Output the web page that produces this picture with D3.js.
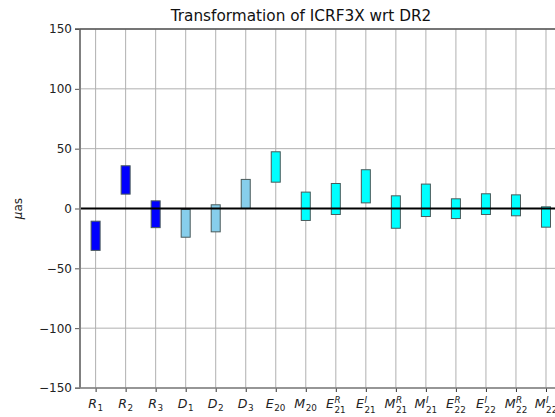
<!DOCTYPE html>
<html>
<head>
<meta charset="utf-8">
<script src="https://cdn.jsdelivr.net/npm/d3@7"></script>
<style>
    body { margin: 0; background: #fff; }
    text { font-family: "DejaVu Sans", sans-serif; }
</style>
</head>
<body>
<svg id="chart" width="555" height="417"></svg>
<script>
// parameter names: letter, subscript, superscript
var names = [
    ['R', '1', ''], ['R', '2', ''], ['R', '3', ''],
    ['D', '1', ''], ['D', '2', ''], ['D', '3', ''],
    ['E', '20', ''], ['M', '20', ''],
    ['E', '21', 'R'], ['E', '21', 'I'], ['M', '21', 'R'], ['M', '21', 'I'],
    ['E', '22', 'R'], ['E', '22', 'I'], ['M', '22', 'R'], ['M', '22', 'I']
];
// lower and upper ends of each bar (uas)
var lows = [-35, 12, -16, -24, -19.5, 0, 22, -10, -5, 4.7, -16.5, -6.7, -8.4, -5, -6.1, -15.6];
var highs = [-10.6, 35.7, 6.4, -0.8, 3.1, 24.3, 47.4, 13.7, 20.9, 32.4, 10.6, 20.4, 8.1, 12.3, 11.4, 1.4];
var yTicks = [-150, -100, -50, 0, 50, 100, 150];
var colorMap = { R: '#0000ff', D: '#87ceeb', E: '#00ffff', M: '#00ffff' };

var svg = d3.select('#chart');
var padL = 80, padT = 29, padB = 388, padR = 561;

var x = d3.scaleLinear().domain([-0.52, 15.5]).range([padL, padR]);
var y = d3.scaleLinear().domain([-150, 150]).range([padB, padT]);
var barW = x(0.3) - x(0);

// grid
svg.append('g').selectAll('line')
    .data(d3.range(names.length))
    .enter().append('line')
    .attr('x1', function (i) { return x(i); })
    .attr('x2', function (i) { return x(i); })
    .attr('y1', padT).attr('y2', padB)
    .attr('stroke', '#b0b0b0').attr('stroke-width', 1);
svg.append('g').selectAll('line')
    .data(yTicks)
    .enter().append('line')
    .attr('x1', padL).attr('x2', padR)
    .attr('y1', function (d) { return y(d); })
    .attr('y2', function (d) { return y(d); })
    .attr('stroke', '#b0b0b0').attr('stroke-width', 1);

// bars
svg.append('g').selectAll('rect')
    .data(names)
    .enter().append('rect')
    .attr('x', function (d, i) { return x(i) - barW / 2; })
    .attr('width', barW)
    .attr('y', function (d, i) { return y(highs[i]); })
    .attr('height', function (d, i) { return y(lows[i]) - y(highs[i]); })
    .attr('fill', function (d) { return colorMap[d[0]]; })
    .attr('stroke', '#4a5a5a')
    .attr('stroke-width', 1);

// zero line
svg.append('line')
    .attr('x1', padL).attr('x2', padR)
    .attr('y1', y(0)).attr('y2', y(0))
    .attr('stroke', '#000').attr('stroke-width', 2);

// y axis
var yAxis = svg.append('g')
    .attr('transform', 'translate(' + padL + ',0)')
    .call(d3.axisLeft(y).tickValues(yTicks).tickSize(5).tickPadding(3)
        .tickFormat(function (d) { return d < 0 ? '\u2212' + Math.abs(d) : d; }));
yAxis.select('.domain').remove();
yAxis.selectAll('.tick line').attr('stroke', '#555');
yAxis.selectAll('.tick text').attr('font-size', 12).attr('fill', '#222')
    .attr('font-family', 'DejaVu Sans');

// x axis ticks
var xAxis = svg.append('g')
    .attr('transform', 'translate(0,' + padB + ')')
    .call(d3.axisBottom(x).tickValues(d3.range(names.length)).tickSize(4).tickFormat(''));
xAxis.select('.domain').remove();
xAxis.selectAll('.tick line').attr('stroke', '#333');

// spines
svg.append('line').attr('x1', padL).attr('x2', padL).attr('y1', padT).attr('y2', padB)
    .attr('stroke', '#808080').attr('stroke-width', 2);
svg.append('line').attr('x1', padL - 5).attr('x2', padR).attr('y1', padT).attr('y2', padT)
    .attr('stroke', '#555').attr('stroke-width', 1.5);
svg.append('line').attr('x1', padL - 5).attr('x2', padR).attr('y1', padB).attr('y2', padB)
    .attr('stroke', '#808080').attr('stroke-width', 1.5);

// x tick labels with sub/superscripts
names.forEach(function (d, i) {
    var g = svg.append('g');
    var main = g.append('text')
        .attr('x', 0).attr('y', 0)
        .attr('font-size', 12.6).attr('font-style', 'italic').attr('fill', '#222')
        .text(d[0]);
    var w = main.node().getComputedTextLength();
    g.append('text')
        .attr('x', w + 0.5).attr('y', d[2] ? 5 : 3)
        .attr('font-size', 8.8).attr('fill', '#222')
        .text(d[1]);
    if (d[2]) {
        g.append('text')
            .attr('x', w + 0.5).attr('y', -5)
            .attr('font-size', 8.8).attr('font-style', 'italic').attr('fill', '#222')
            .text(d[2]);
    }
    var bb = g.node().getBBox();
    g.attr('transform', 'translate(' + (x(i) - bb.x - bb.width / 2) + ',' + 408 + ')');
});

// title and y label
svg.append('text')
    .attr('x', 301).attr('y', 21)
    .attr('text-anchor', 'middle')
    .attr('font-size', 15.3).attr('fill', '#111')
    .text('Transformation of ICRF3X wrt DR2');
svg.append('text')
    .attr('transform', 'translate(22,' + y(0) + ') rotate(-90)')
    .attr('text-anchor', 'middle')
    .attr('font-size', 12).attr('fill', '#222')
    .html('<tspan font-style="italic">\u03bc</tspan>as');
</script>
</body>
</html>
